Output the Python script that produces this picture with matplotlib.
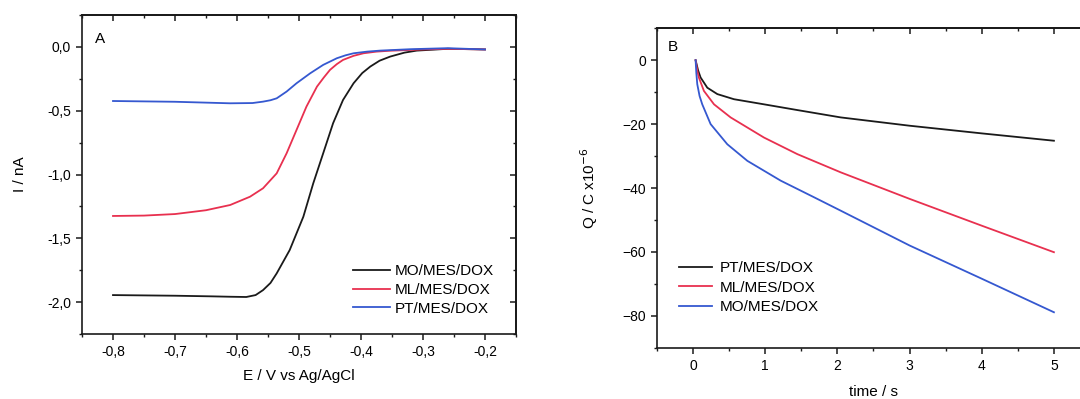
import matplotlib
matplotlib.use("Agg")
import matplotlib.pyplot as plt
from matplotlib.ticker import MultipleLocator, FuncFormatter, NullFormatter

plt.rcParams['font.family'] = ['Liberation Sans', 'DejaVu Sans']

# panel A: linear sweep, E / V vs Ag/AgCl and I / nA
e_mo = [-0.80, -0.70, -0.64, -0.611, -0.585, -0.570, -0.558, -0.546, -0.536, -0.515,
        -0.493, -0.477, -0.461, -0.445, -0.429, -0.412, -0.398, -0.385, -0.37,
        -0.353, -0.33, -0.31, -0.26, -0.20]
i_mo = [-1.945, -1.95, -1.955, -1.958, -1.96, -1.945, -1.906, -1.85, -1.775, -1.592,
        -1.331, -1.069, -0.834, -0.598, -0.416, -0.285, -0.205, -0.154, -0.108,
        -0.076, -0.045, -0.029, -0.015, -0.02]
e_ml = [-0.80, -0.75, -0.70, -0.65, -0.611, -0.579, -0.558, -0.536, -0.520, -0.504,
        -0.488, -0.471, -0.460, -0.450, -0.439, -0.429, -0.412, -0.396, -0.375,
        -0.353, -0.30, -0.26, -0.20]
i_ml = [-1.325, -1.322, -1.31, -1.28, -1.239, -1.174, -1.108, -0.991, -0.834, -0.651,
        -0.468, -0.311, -0.240, -0.180, -0.135, -0.102, -0.070, -0.050, -0.037,
        -0.03, -0.02, -0.015, -0.02]
e_pt = [-0.80, -0.70, -0.611, -0.575, -0.558, -0.546, -0.536, -0.520, -0.504, -0.482,
        -0.461, -0.439, -0.425, -0.412, -0.39, -0.369, -0.32, -0.26, -0.20]
i_pt = [-0.424, -0.43, -0.442, -0.44, -0.429, -0.418, -0.403, -0.350, -0.285, -0.207,
        -0.141, -0.089, -0.066, -0.050, -0.037, -0.029, -0.018, -0.01, -0.02]

# panel B: charge vs time
t_pt = [0.035, 0.07, 0.104, 0.197, 0.336, 0.566, 0.982, 1.445, 2.046, 3.0, 4.0, 5.0]
q_pt = [0, -3.2, -5.4, -8.6, -10.6, -12.2, -13.8, -15.6, -17.9, -20.5, -22.9, -25.2]
t_ml = [0.035, 0.06, 0.08, 0.15, 0.29, 0.52, 0.982, 1.445, 2.046, 3.0, 4.0, 5.0]
q_ml = [0, -3.5, -5.4, -9.6, -13.8, -17.9, -24.2, -29.4, -35.1, -43.4, -51.8, -60.1]
t_mo = [0.035, 0.045, 0.058, 0.09, 0.127, 0.243, 0.474, 0.752, 1.214, 1.676, 2.046,
        3.0, 4.0, 5.0]
q_mo = [0, -4.0, -7.5, -11.2, -13.8, -20.0, -26.3, -31.5, -37.7, -42.9, -47.1,
        -58.0, -68.4, -78.9]

BLACK = '#1a1a1a'
RED = '#e8304f'
BLUE = '#3558d0'

fig = plt.figure(figsize=(10.8, 3.99), dpi=100)
W, H = 1080, 399
axA = fig.add_axes([82 / W, (H - 334) / H, (516 - 82) / W, (334 - 15) / H])
axB = fig.add_axes([657 / W, (H - 347.7) / H, (1090 - 657) / W, (347.7 - 28.3) / H])

comma = FuncFormatter(lambda v, p: ('%.1f' % v).replace('.', ','))

axA.plot(e_mo, i_mo, color=BLACK, lw=1.3, label='MO/MES/DOX')
axA.plot(e_ml, i_ml, color=RED, lw=1.3, label='ML/MES/DOX')
axA.plot(e_pt, i_pt, color=BLUE, lw=1.3, label='PT/MES/DOX')
axA.set_xlim(-0.85, -0.15)
axA.set_ylim(-2.25, 0.25)
axA.xaxis.set_major_locator(MultipleLocator(0.1))
axA.xaxis.set_minor_locator(MultipleLocator(0.05))
axA.yaxis.set_major_locator(MultipleLocator(0.5))
axA.yaxis.set_minor_locator(MultipleLocator(0.25))
axA.xaxis.set_major_formatter(comma)
axA.yaxis.set_major_formatter(comma)
axA.set_xlabel('E / V vs Ag/AgCl', fontsize=11, labelpad=7)
axA.set_ylabel('I / nA', fontsize=11, labelpad=14)
axA.text(100 / W, 1 - 39 / H, 'A', transform=fig.transFigure, fontsize=11,
         ha='center', va='center')
axA.legend(loc='upper left', bbox_to_anchor=(353 / W, 1 - 264 / H),
           bbox_transform=fig.transFigure, frameon=False, fontsize=11,
           handlelength=2.4, handletextpad=0.3, labelspacing=0.32,
           borderpad=0, borderaxespad=0)

axB.plot(t_pt, q_pt, color=BLACK, lw=1.3, label='PT/MES/DOX')
axB.plot(t_ml, q_ml, color=RED, lw=1.3, label='ML/MES/DOX')
axB.plot(t_mo, q_mo, color=BLUE, lw=1.3, label='MO/MES/DOX')
axB.set_xlim(-0.5, 5.5)
axB.set_ylim(-90, 10)
axB.xaxis.set_major_locator(MultipleLocator(1))
axB.xaxis.set_minor_locator(MultipleLocator(0.5))
axB.yaxis.set_major_locator(MultipleLocator(20))
axB.yaxis.set_minor_locator(MultipleLocator(10))
axB.set_xlabel('time / s', fontsize=11, labelpad=9)
axB.set_ylabel('Q / C x10$^{-6}$', fontsize=11, labelpad=16)
axB.text(673 / W, 1 - 47 / H, 'B', transform=fig.transFigure, fontsize=11,
         ha='center', va='center')
axB.legend(loc='upper left', bbox_to_anchor=(679 / W, 1 - 261 / H),
           bbox_transform=fig.transFigure, frameon=False, fontsize=11,
           handlelength=2.15, handletextpad=0.5, labelspacing=0.36,
           borderpad=0, borderaxespad=0)

for ax in (axA, axB):
    for s in ax.spines.values():
        s.set_linewidth(1.2)
        s.set_color(BLACK)
    ax.tick_params(which='both', direction='out', labelsize=10, color=BLACK,
                   top=False, right=False)
    ax.tick_params(which='major', length=4.5, width=1.1)
    ax.tick_params(which='minor', length=2.5, width=1.0)
    # mirrored ticks pointing inward on top and right
    top = ax.secondary_xaxis('top')
    top.xaxis.set_major_locator(ax.xaxis.get_major_locator())
    top.xaxis.set_minor_locator(ax.xaxis.get_minor_locator())
    top.xaxis.set_major_formatter(NullFormatter())
    top.tick_params(which='both', direction='in', color=BLACK)
    top.tick_params(which='major', length=4.5, width=1.1)
    top.tick_params(which='minor', length=2.5, width=1.0)
    top.spines['top'].set_linewidth(1.2)
    right = ax.secondary_yaxis('right')
    right.yaxis.set_major_locator(ax.yaxis.get_major_locator())
    right.yaxis.set_minor_locator(ax.yaxis.get_minor_locator())
    right.yaxis.set_major_formatter(NullFormatter())
    right.tick_params(which='both', direction='in', color=BLACK)
    right.tick_params(which='major', length=4.5, width=1.1)
    right.tick_params(which='minor', length=2.5, width=1.0)
    right.spines['right'].set_linewidth(1.2)

fig.savefig('out.png', dpi=100)
